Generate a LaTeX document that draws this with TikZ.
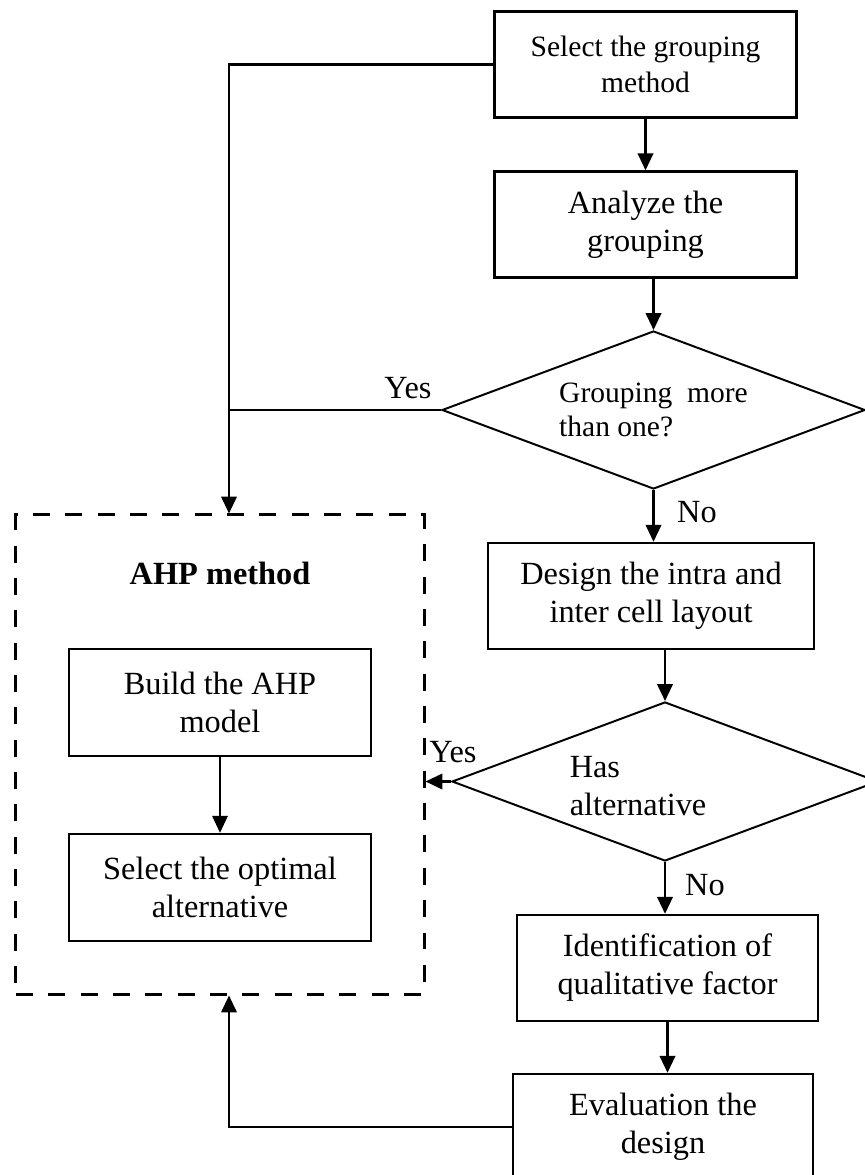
\documentclass[tikz,border=0pt]{standalone}
\usepackage{fontspec}
\setmainfont{Liberation Serif}
\usetikzlibrary{arrows.meta,positioning,shapes.geometric}

\begin{document}
\begin{tikzpicture}[x=0.025cm, y=-0.025cm,
    every node/.style={
        font=\fontsize{23}{27}\selectfont,
        inner sep=0pt
    },
    stepbox/.style={
        rectangle,
        draw,
        line width=1.7pt,
        align=center,
        minimum width=7.55cm,
        minimum height=2.65cm
    },
    choice/.style={
        diamond,
        draw,
        aspect=2.7,
        line width=1.4pt,
        align=left
    },
    flow/.style={-{Triangle[length=12pt,width=11pt]}, line width=1.6pt},
    link/.style={line width=1.6pt}
]
    \useasboundingbox (0, 0) rectangle (865, 1175);

    \node (select_method) [stepbox, font=\fontsize{21}{26}\selectfont, shift={(645.5, 64.5)}]
    {
        Select the grouping\\method
    };
    \node (analyze_grouping) [stepbox, shift={(645.5, 224.5)}]
    {
        Analyze the\\grouping
    };
    \node (grouping_check) [choice, font=\fontsize{21}{24}\selectfont,
        minimum width=10.575cm, minimum height=3.95cm, shift={(653.5, 410)}]
    {
        Grouping\ \ more\\than one?
    };
    \node (design_layout) [stepbox, minimum width=8.15cm, shift={(651, 596)}]
    {
        Design the intra and\\inter cell layout
    };
    \node (has_alternative) [choice, minimum width=10.65cm, minimum height=3.975cm,
        shift={(665, 781.5)}] {};
    \node (has_alternative_text) [align=left, shift={(638, 786)}]
    {
        Has\\alternative
    };
    \node (identify_factor) [stepbox, minimum width=7.525cm, shift={(667.5, 968)}]
    {
        Identification of\\qualitative factor
    };
    \node (evaluate_design) [stepbox, minimum width=7.5cm, shift={(663, 1127)}]
    {
        Evaluation the\\design
    };

    \node (ahp_method) [draw, line width=2.1pt, dash pattern=on 12pt off 11pt,
        minimum width=10.2cm, minimum height=11.975cm, shift={(220, 754.5)}] {};
    \node (ahp_title) [font=\fontsize{23}{27}\selectfont\bfseries, shift={(220, 573)}]
    {
        AHP method
    };
    \node (build_model) [stepbox, minimum height=2.675cm, shift={(220, 702.5)}]
    {
        Build the AHP\\model
    };
    \node (select_optimal) [stepbox, minimum height=2.675cm, shift={(220, 887.5)}]
    {
        Select the optimal\\alternative
    };

    \node (yes_grouping) [shift={(408, 388)}] {Yes};
    \node (no_grouping) [shift={(697, 512)}] {No};
    \node (yes_alternative) [shift={(453, 752)}] {Yes};
    \node (no_alternative) [shift={(705, 885)}] {No};

    \coordinate (join) at (229, 410);

    \draw[flow] (select_method) to (analyze_grouping);
    \draw[flow] (analyze_grouping.south -| grouping_check.north) to (grouping_check.north);
    \draw[flow] (grouping_check.south) to (grouping_check.south |- design_layout.north);
    \draw[flow] (design_layout.south -| has_alternative.north) to (has_alternative.north);
    \draw[flow] (has_alternative.south) to (has_alternative.south |- identify_factor.north);
    \draw[flow] (identify_factor.south) to (identify_factor.south |- evaluate_design.north);
    \draw[flow] (has_alternative.west) to (has_alternative.west -| ahp_method.east);
    \draw[flow, line width=0.9pt] (build_model) to (select_optimal);
    \draw[link] (select_method.west) -| (join);
    \draw[link] (grouping_check.west) to (join);
    \draw[flow] (join) to (join |- ahp_method.north);
    \draw[flow] (evaluate_design.west) -| (join |- ahp_method.south);
\end{tikzpicture}
\end{document}
